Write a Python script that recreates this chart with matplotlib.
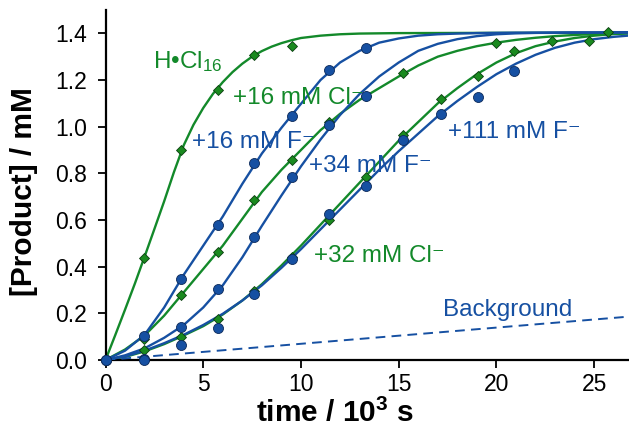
import matplotlib
matplotlib.use("Agg")
import matplotlib.pyplot as plt
from matplotlib.ticker import FormatStrFormatter

plt.rcParams['font.family'] = ['Liberation Sans', 'DejaVu Sans']
plt.rcParams['mathtext.fontset'] = 'custom'
plt.rcParams['mathtext.rm'] = 'Liberation Sans'
plt.rcParams['mathtext.it'] = 'Liberation Sans:italic'
plt.rcParams['mathtext.bf'] = 'Liberation Sans:bold'

GREEN = '#13892a'
BLUE = '#1650a2'

# ---------------- measured data points (time / 10^3 s, [Product] / mM) ----------------
hcl16_t = [0, 1.95, 3.85, 5.75, 7.62, 9.55]
hcl16_y = [0, 0.438, 0.90, 1.157, 1.309, 1.347]

cl16_t = [0, 1.95, 3.85, 5.75, 7.62, 9.55, 11.43, 13.32, 15.22, 19.97, 25.7]
cl16_y = [0, 0.09, 0.28, 0.464, 0.686, 0.857, 1.021, 1.13, 1.229, 1.357, 1.407]

cl32_t = [0, 1.95, 3.85, 5.75, 7.62, 9.55, 11.43, 13.32, 15.22, 17.14, 19.04, 20.92, 22.82, 24.73]
cl32_y = [0, 0.043, 0.097, 0.177, 0.296, 0.44, 0.60, 0.783, 0.964, 1.12, 1.217, 1.326, 1.366, 1.367]

f16_t = [0, 1.95, 3.85, 5.75, 7.62, 9.55, 11.43, 13.32]
f16_y = [0, 0.104, 0.349, 0.58, 0.846, 1.046, 1.243, 1.339]

f34_t = [0, 1.95, 3.85, 5.75, 7.62, 9.55, 11.43, 13.32]
f34_y = [0, 0.003, 0.143, 0.304, 0.529, 0.783, 1.006, 1.131]

f111_t = [0, 1.95, 3.85, 5.75, 7.62, 9.55, 11.43, 13.32, 15.22, 17.14, 19.04, 20.92]
f111_y = [0, 0.0, 0.064, 0.139, 0.284, 0.433, 0.624, 0.746, 0.943, 1.054, 1.129, 1.24]

# ---------------- fitted curves ----------------
fit_hcl16_t = [0, 0.5, 1, 1.5, 2, 2.5, 3, 3.5, 4, 4.5, 5, 5.5, 6, 6.5, 7, 7.5, 8, 8.5,
               9, 9.5, 10, 11, 12, 13, 15, 20, 27]
fit_hcl16_y = [0, 0.107, 0.216, 0.327, 0.443, 0.561, 0.68, 0.805, 0.92, 1.008, 1.08, 1.141,
               1.191, 1.234, 1.27, 1.30, 1.324, 1.343, 1.358, 1.37, 1.38, 1.39, 1.396,
               1.399, 1.401, 1.402, 1.402]

fit_t = list(range(0, 28))
fit_cl16_y = [0, 0.045, 0.105, 0.19, 0.29, 0.39, 0.49, 0.605, 0.72, 0.815, 0.90, 0.985,
              1.055, 1.115, 1.165, 1.215, 1.262, 1.30, 1.325, 1.345, 1.36, 1.372, 1.381,
              1.388, 1.393, 1.397, 1.40, 1.402]
fit_cl32_y = [0, 0.013, 0.037, 0.068, 0.105, 0.145, 0.195, 0.255, 0.325, 0.405, 0.49, 0.58,
              0.67, 0.76, 0.85, 0.94, 1.02, 1.10, 1.165, 1.225, 1.275, 1.315, 1.345, 1.365,
              1.38, 1.39, 1.397, 1.40]
fit_f16_y = [0, 0.04, 0.108, 0.225, 0.365, 0.49, 0.615, 0.755, 0.885, 0.995, 1.098, 1.20,
             1.275, 1.325, 1.36, 1.378, 1.39, 1.396, 1.399, 1.401, 1.402, 1.403, 1.403,
             1.403, 1.403, 1.403, 1.403, 1.403]
fit_f34_y = [0, 0.02, 0.05, 0.095, 0.15, 0.225, 0.32, 0.44, 0.575, 0.705, 0.83, 0.945,
             1.05, 1.14, 1.215, 1.275, 1.325, 1.355, 1.375, 1.388, 1.396, 1.40, 1.402,
             1.403, 1.404, 1.404, 1.405, 1.405]
fit_f111_y = [0, 0.015, 0.04, 0.072, 0.108, 0.15, 0.198, 0.255, 0.32, 0.395, 0.475, 0.56,
              0.645, 0.73, 0.815, 0.895, 0.97, 1.045, 1.11, 1.17, 1.225, 1.27, 1.308, 1.338,
              1.36, 1.375, 1.385, 1.392]

bg_t = [0, 27]
bg_y = [0, 0.1875]

# ---------------- figure ----------------
fig = plt.figure(figsize=(6.29, 4.29), dpi=100)
ax = fig.add_axes([105.5 / 629, 69 / 429, 522.5 / 629, 350 / 429])

lw = 1.7
# green curves first, blue on top
ax.plot(fit_hcl16_t, fit_hcl16_y, color=GREEN, lw=lw, zorder=2)
ax.plot(fit_t, fit_cl16_y, color=GREEN, lw=lw, zorder=2)
ax.plot(fit_t, fit_cl32_y, color=GREEN, lw=lw, zorder=2)
ax.plot(fit_t, fit_f16_y, color=BLUE, lw=lw, zorder=3)
ax.plot(fit_t, fit_f34_y, color=BLUE, lw=lw, zorder=3)
ax.plot(fit_t, fit_f111_y, color=BLUE, lw=lw, zorder=3)
ax.plot(bg_t, bg_y, color=BLUE, lw=1.4, ls=(0, (5, 3.2)), zorder=3)

dkw = dict(ls='none', marker='D', ms=5.6, mfc='#1a8a1f', mec='#0b3d10', mew=0.6,
           zorder=4, clip_on=False)
ckw = dict(ls='none', marker='o', ms=7.2, mfc=BLUE, mec='#0c2a5a', mew=0.6,
           zorder=5, clip_on=False)
ax.plot(hcl16_t, hcl16_y, **dkw)
ax.plot(cl16_t, cl16_y, **dkw)
ax.plot(cl32_t, cl32_y, **dkw)
ax.plot(f16_t, f16_y, **ckw)
ax.plot(f34_t, f34_y, **ckw)
ax.plot(f111_t, f111_y, **ckw)

ax.set_xlim(0, 26.73)
ax.set_ylim(0, 1.5)
ax.set_xticks([0, 5, 10, 15, 20, 25])
ax.set_yticks([0, 0.2, 0.4, 0.6, 0.8, 1.0, 1.2, 1.4])
ax.yaxis.set_major_formatter(FormatStrFormatter('%.1f'))

for s in ['top', 'right']:
    ax.spines[s].set_visible(False)
for s in ['left', 'bottom']:
    ax.spines[s].set_linewidth(1.6)
ax.tick_params(axis='both', direction='out', length=5.5, width=1.3, labelsize=16.5)
ax.tick_params(axis='y', pad=8)
ax.tick_params(axis='x', pad=4)

ax.set_xlabel('time / 10$^{\\mathbf{3}}$ s', fontsize=21.5, fontweight='bold')
ax.xaxis.set_label_coords((335 - 105.5) / 522.5, -(428 - 360) / 350, transform=ax.transAxes)
ax.xaxis.label.set_va('bottom')
ax.set_ylabel('[Product] / mM', fontsize=21.5, fontweight='bold')
ax.yaxis.set_label_coords(-(105.5 - 38) / 522.5, (360 - 192) / 350)

fs = 17.5
sup = '\u207b'
ax.text(2.41, 1.25, r'H•Cl$_{16}$', color=GREEN, fontsize=fs, va='baseline')
ax.text(6.54, 1.097, '+16 mM Cl' + sup, color=GREEN, fontsize=fs, va='baseline')
ax.text(4.41, 0.907, '+16 mM F' + sup, color=BLUE, fontsize=fs, va='baseline')
ax.text(10.41, 0.807, '+34 mM F' + sup, color=BLUE, fontsize=fs, va='baseline')
ax.text(17.53, 0.95, '+111 mM F' + sup, color=BLUE, fontsize=fs, va='baseline')
ax.text(10.67, 0.421, '+32 mM Cl' + sup, color=GREEN, fontsize=fs, va='baseline')
ax.text(17.28, 0.189, 'Background', color=BLUE, fontsize=fs, va='baseline')

fig.savefig('out.png', dpi=100)
